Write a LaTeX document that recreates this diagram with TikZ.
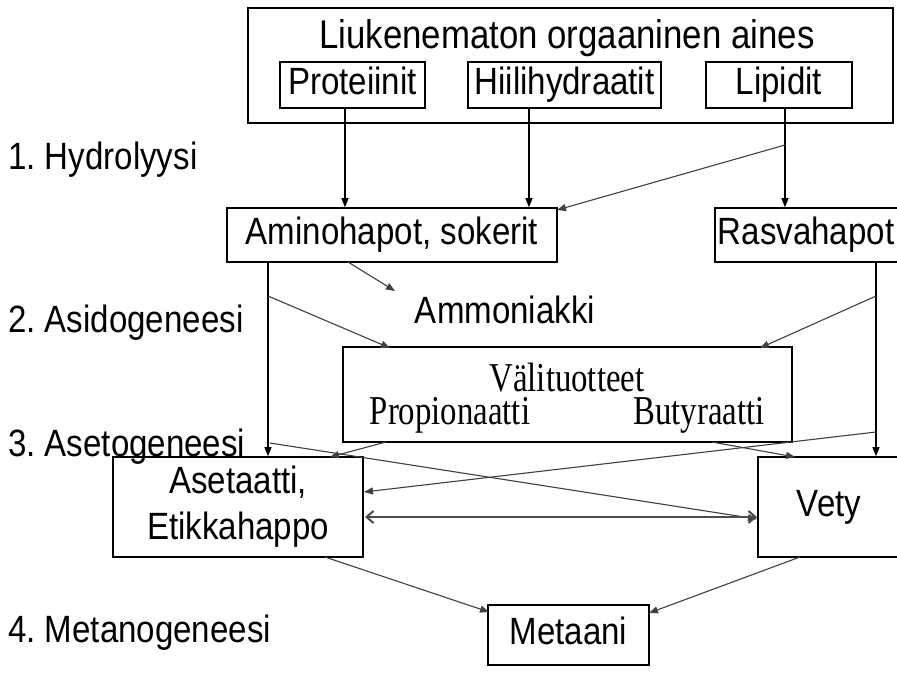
\documentclass[tikz,border=0pt]{standalone}
\usepackage{fontspec}
\setmainfont{Liberation Sans}
\newfontfamily\sansn[FakeStretch=0.87]{Liberation Sans}
\newfontfamily\serf[FakeStretch=0.8]{Liberation Serif}
\usetikzlibrary{arrows.meta}
\begin{document}
\frenchspacing
\begin{tikzpicture}[x=1pt,y=-1pt,
  box/.style={draw, line width=1.6pt, inner sep=0pt},
  txt/.style={font=\sansn\fontsize{38}{40}\selectfont, inner sep=0pt},
  btxt/.style={txt, text height=27pt, text depth=8pt},
  stxt/.style={font=\serf\fontsize{41}{43}\selectfont, inner sep=0pt},
  arr/.style={line width=1.1pt, -{Triangle[length=9pt,width=7pt]}},
  darr/.style={line width=1.1pt, black!75, -{Triangle[length=9pt,width=7pt]}},
  dbl/.style={line width=2pt, black!70, {Straight Barb[length=7pt,width=12pt]}-{Straight Barb[length=7pt,width=12pt]}}]
\useasboundingbox (0,0) rectangle (897,677);
\fill[white] (0,0) rectangle (897,677);
\begin{scope}
\clip (0,0) rectangle (897,677);

% boxes
\node[box, minimum width=645pt, minimum height=115pt] (outer) at (570.5,65.5) {};
\node[txt, font=\sansn\fontsize{40}{42}\selectfont] (title) at (567,38) {Liukenematon orgaaninen aines};
\node[box, btxt, minimum width=145pt, minimum height=46pt] (prot) at (352.5,85) {Proteiinit};
\node[box, btxt, minimum width=193pt, minimum height=46pt] (hiili) at (564.5,85) {Hiilihydraatit};
\node[box, btxt, minimum width=146pt, minimum height=46pt] (lipid) at (779,85) {Lipidit};

\node[box, btxt, minimum width=330pt, minimum height=54pt] (amino) at (392,235) {Aminohapot, sokerit};
\node[box, minimum width=190pt, minimum height=54pt] (rasva) at (810,235) {};
\node[btxt] (rasvat) at (806,235) {Rasvahapot};
\node[txt] (ammon) at (505,310) {Ammoniakki};

\node[box, minimum width=449pt, minimum height=95pt] (valit) at (567.5,394.5) {};
\node[stxt] (valt) at (567,378) {Välituotteet};
\node[stxt] (prop) at (450,415) {Propionaatti};
\node[stxt] (buty) at (699,415) {Butyraatti};

\node[box, txt, minimum width=250pt, minimum height=100pt, align=center] (aset) at (238,507) {Asetaatti,\\[6pt]Etikkahappo};
\node[box, minimum width=150pt, minimum height=100pt] (vety) at (833,507) {};
\node[btxt] (vetyt) at (829,507) {Vety};
\node[box, btxt, minimum width=161pt, minimum height=60pt] (meta) at (568.5,635) {Metaani};

% stage labels
\node[txt, anchor=west] (s1) at (8,160) {1. Hydrolyysi};
\node[txt, anchor=west] (s2) at (8,323) {2. Asidogeneesi};
\node[txt, anchor=west] (s3) at (8,447) {3. Asetogeneesi};
\node[txt, anchor=west] (s4) at (8,633) {4. Metanogeneesi};

% helper coordinates
\coordinate (pS) at (345,108);
\coordinate (hS) at (529,108);
\coordinate (lS) at (785,108);
\coordinate (lD) at (785,145);
\coordinate (aL) at (268,262);
\coordinate (aLd) at (268,296);
\coordinate (aLx) at (270,443);
\coordinate (rR) at (876,262);
\coordinate (rRd) at (876,296);
\coordinate (rRx) at (876,432);

% hydrolysis
\draw[arr] (pS) -- (pS |- amino.north);
\draw[arr] (hS) -- (hS |- amino.north);
\draw[arr] (lS) -- (lS |- rasva.north);
\draw[darr] (lD) -- (557,210);
% acidogenesis
\draw[darr] (348,262) -- (395,291);
\draw[arr] (aL) -- (aL |- aset.north);
\draw[darr] (aLd) -- (390,348);
\draw[arr] (rR) -- (rR |- vety.north);
\draw[darr] (rRd) -- (760,348);
% acetogenesis
\draw[darr] (aLx) -- (757,519);
\draw[darr] (rRx) -- (364,492);
\draw[darr] (386,442) -- (330,457);
\draw[darr] (712,442) -- (795,457);
\draw[dbl] (365,517) -- (757,517);
% methanogenesis
\draw[darr] (325,557) -- (489,612);
\draw[darr] (800,557) -- (649,613);
\end{scope}
\end{tikzpicture}
\end{document}
